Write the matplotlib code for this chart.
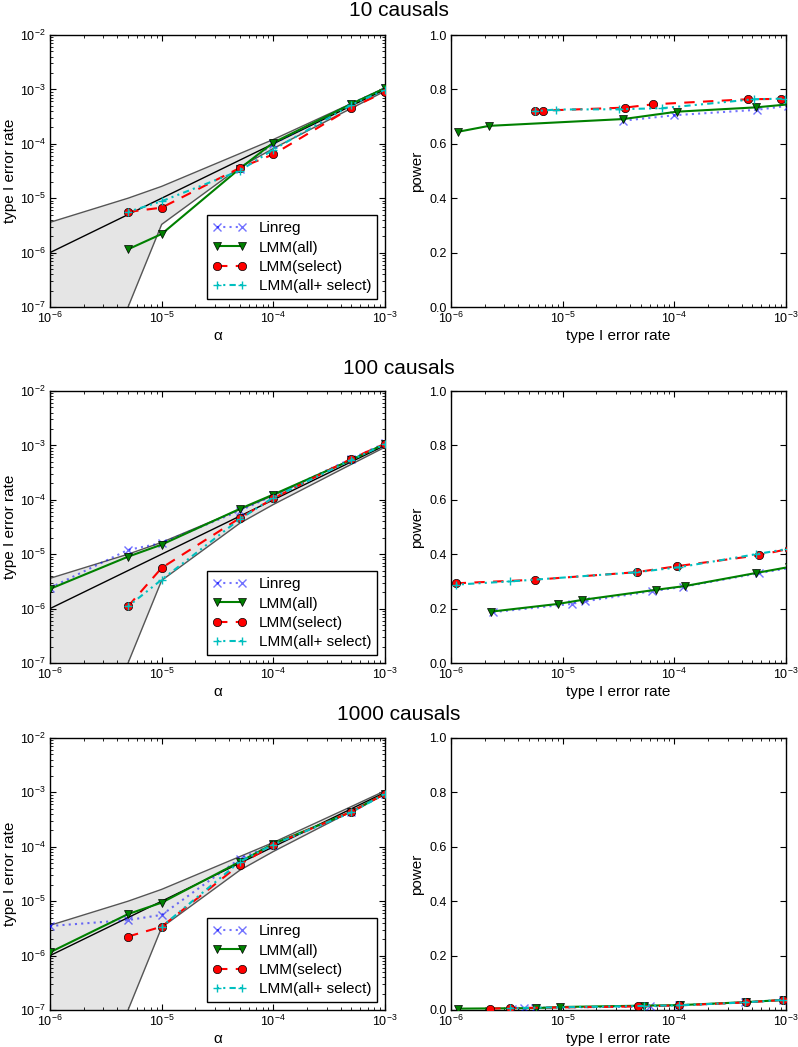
import numpy as np
import matplotlib
matplotlib.use("Agg")
import matplotlib.pyplot as plt
from matplotlib.ticker import LogLocator, LogFormatterSciNotation, FixedLocator

plt.rcParams.update({
    'font.family': ['Liberation Sans', 'DejaVu Sans'],
    'mathtext.fontset': 'custom',
    'mathtext.rm': 'Liberation Sans',
    'mathtext.it': 'Liberation Sans:italic',
    'mathtext.default': 'regular',
    'xtick.direction': 'in', 'ytick.direction': 'in',
    'xtick.top': True, 'ytick.right': True,
    'xtick.major.size': 4, 'ytick.major.size': 4,
    'xtick.minor.size': 2, 'ytick.minor.size': 2,
    'xtick.major.pad': 3, 'ytick.major.pad': 3,
    'xtick.labelsize': 9, 'ytick.labelsize': 9,
    'axes.linewidth': 1.0,
})

nan = np.nan
alpha = [1e-6, 5e-6, 1e-5, 5e-5, 1e-4, 5e-4, 1e-3]
band_upper = [3.6e-6, 1.0e-5, 1.65e-5, 6.6e-5, 1.2e-4, 5.5e-4, 1.07e-3]
band_lower = [1e-14, 1.0e-7, 3.3e-6, 3.7e-5, 8.2e-5, 4.5e-4, 9.3e-4]

titles = ['10 causals', '100 causals', '1000 causals']
methods = ['Linreg', 'LMM(all)', 'LMM(select)', 'LMM(all+ select)']

# type I error rate per method (rows: Linreg, LMM(all), LMM(select), LMM(all+select))
t1_10 = [[nan, nan, nan, 3.5e-5, 1.0e-4, 5.5e-4, 1.05e-3],
         [nan, 1.15e-6, 2.2e-6, 3.5e-5, 1.05e-4, 5.4e-4, 1.05e-3],
         [nan, 5.6e-6, 6.7e-6, 3.6e-5, 6.4e-5, 4.6e-4, 9.0e-4],
         [nan, 5.6e-6, 8.8e-6, 3.2e-5, 7.8e-5, 5.2e-4, 9.8e-4]]
pw_10 = [[nan, nan, nan, 0.685, 0.705, 0.725, 0.74],
         [nan, 0.644, 0.666, 0.691, 0.718, 0.734, 0.745],
         [nan, 0.721, 0.722, 0.733, 0.745, 0.764, 0.765],
         [nan, 0.720, 0.726, 0.727, 0.731, 0.764, 0.766]]

t1_100 = [[2.4e-6, 1.2e-5, 1.6e-5, 6.3e-5, 1.2e-4, 5.7e-4, 1.1e-3],
          [2.3e-6, 9.0e-6, 1.5e-5, 6.8e-5, 1.25e-4, 5.4e-4, 1.07e-3],
          [nan, 1.1e-6, 5.6e-6, 4.6e-5, 1.06e-4, 5.7e-4, 1.07e-3],
          [nan, 1.1e-6, 3.4e-6, 4.4e-5, 1.1e-4, 5.4e-4, 1.05e-3]]
pw_100 = [[0.187, 0.217, 0.227, 0.264, 0.280, 0.330, 0.350],
          [0.189, 0.217, 0.232, 0.269, 0.283, 0.331, 0.353],
          [nan, 0.293, 0.306, 0.334, 0.356, 0.396, 0.420],
          [nan, 0.288, 0.300, 0.333, 0.352, 0.400, 0.420]]

t1_1000 = [[3.5e-6, 4.5e-6, 5.6e-6, 6.0e-5, 1.1e-4, 4.3e-4, 9.4e-4],
           [1.15e-6, 5.8e-6, 9.4e-6, 5.3e-5, 1.13e-4, 4.4e-4, 9.5e-4],
           [nan, 2.24e-6, 3.4e-6, 4.7e-5, 1.1e-4, 4.4e-4, 9.4e-4],
           [nan, nan, 3.4e-6, 5.3e-5, 1.1e-4, 4.3e-4, 9.4e-4]]
pw_1000 = [[0.004, 0.006, 0.008, 0.013, 0.017, 0.028, 0.037],
           [0.005, 0.007, 0.011, 0.016, 0.018, 0.029, 0.037],
           [nan, 0.005, 0.007, 0.013, 0.017, 0.028, 0.037],
           [nan, nan, 0.007, 0.015, 0.017, 0.028, 0.037]]

t1_all = [t1_10, t1_100, t1_1000]
pw_all = [pw_10, pw_100, pw_1000]

styles = [
    dict(color='b', alpha=0.55, linestyle=(0, (1, 2)), marker='x', markersize=5.5, markeredgewidth=1),
    dict(color='g', linestyle='-', marker='v', markersize=6, markerfacecolor='g', markeredgecolor='k', markeredgewidth=0.5),
    dict(color='r', linestyle=(0, (5, 4)), marker='o', markersize=6, markerfacecolor='r', markeredgecolor='k', markeredgewidth=0.5),
    dict(color='c', linestyle=(0, (1, 2, 1, 2, 3, 2)), marker='+', markersize=6, markeredgewidth=1),
]

fig = plt.figure(figsize=(7.98, 10.47), dpi=100)
lefts = [50 / 798, 451 / 798]
width = 335 / 798
tops = [35, 391, 738]
height = 272 / 1047
title_y = [11, 368, 715]

for r in range(3):
    bottom = 1 - (tops[r] + 272) / 1047
    axl = fig.add_axes([lefts[0], bottom, width, height])
    axr = fig.add_axes([lefts[1], bottom, width, height])

    # left: type I error vs alpha
    axl.fill_between(alpha, band_lower, band_upper, color='#e5e5e5', linewidth=0, zorder=1)
    axl.plot(alpha, band_upper, color='#555555', linewidth=1, zorder=2)
    axl.plot(alpha, band_lower, color='#555555', linewidth=1, zorder=2)
    axl.plot(alpha, alpha, color='k', linewidth=1, zorder=2)
    for m in range(4):
        axl.plot(alpha, t1_all[r][m], label=methods[m], zorder=3, **styles[m])
    axl.set_xscale('log'); axl.set_yscale('log')
    axl.set_xlim(1e-6, 1e-3); axl.set_ylim(1e-7, 1e-2)
    axl.set_xlabel('α', fontsize=11, labelpad=2)
    axl.set_ylabel('type I error rate', fontsize=11, labelpad=2)
    leg = axl.legend(loc='lower right', numpoints=2, fontsize=11, fancybox=False,
                     framealpha=1, edgecolor='k', borderaxespad=0.5, handlelength=2.2,
                     labelspacing=0.35)
    leg.get_frame().set_linewidth(1)

    # right: power vs type I error rate
    for m in range(4):
        axr.plot(t1_all[r][m], pw_all[r][m], label=methods[m], zorder=3, **styles[m])
    axr.set_xscale('log')
    axr.set_xlim(1e-6, 1e-3); axr.set_ylim(0, 1)
    axr.yaxis.set_major_locator(FixedLocator([0, 0.2, 0.4, 0.6, 0.8, 1.0]))
    axr.set_yticklabels(['0.0', '0.2', '0.4', '0.6', '0.8', '1.0'])
    axr.set_xlabel('type I error rate', fontsize=11, labelpad=2)
    axr.set_ylabel('power', fontsize=11, labelpad=4)

    for ax in (axl, axr):
        ax.xaxis.set_major_locator(LogLocator(base=10, numticks=10))
        ax.xaxis.set_minor_locator(LogLocator(base=10, subs=np.arange(2, 10), numticks=20))
        ax.xaxis.set_major_formatter(LogFormatterSciNotation())
        ax.tick_params(which='both', top=True, right=True)
    axl.yaxis.set_major_locator(LogLocator(base=10, numticks=10))
    axl.yaxis.set_minor_locator(LogLocator(base=10, subs=np.arange(2, 10), numticks=20))

    fig.text(0.5, 1 - title_y[r] / 1047, titles[r], ha='center', va='center', fontsize=15)

fig.savefig('out.png', dpi=100, facecolor='white')
